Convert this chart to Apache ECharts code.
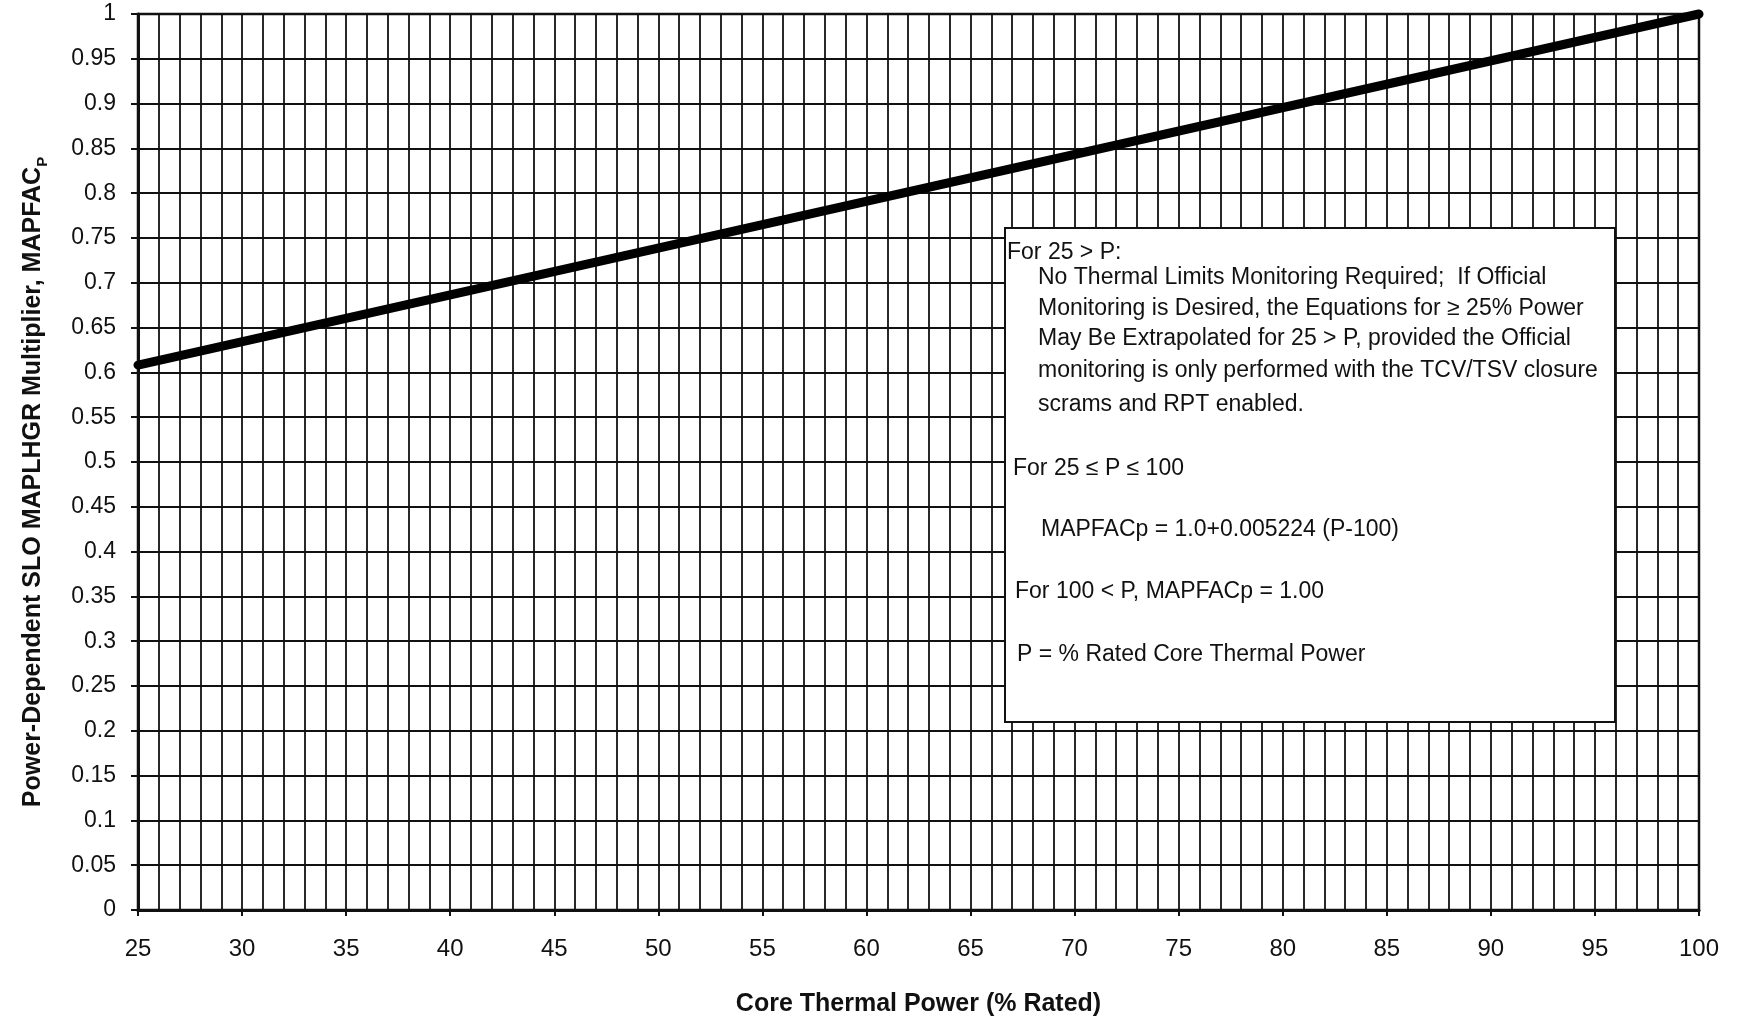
<!DOCTYPE html>
<html>
<head>
<meta charset="utf-8">
<title>MAPFACp vs Core Thermal Power</title>
<script src="https://cdn.jsdelivr.net/npm/echarts@6/dist/echarts.min.js"></script>
<style>
  html, body { margin: 0; padding: 0; background: #fff; }
  #chart { width: 1746px; height: 1022px; }
</style>
</head>
<body>
<div id="chart"></div>
<script>
// Core thermal power (% rated) and the SLO MAPLHGR multiplier at the ends of the line
const powerPct = [25, 100];
const mapfacP = [0.6082, 1.0];

// Axis ranges and tick steps
const xRange = [25, 100];
const xMajorStep = 5;
const xMinorDivisions = 5;
const yRange = [0, 1];
const yStep = 0.05;

// Notes box text
const noteLines = [
  'For 25 > P:',
  'No Thermal Limits Monitoring Required;  If Official',
  'Monitoring is Desired, the Equations for \u2265 25% Power',
  'May Be Extrapolated for 25 > P, provided the Official',
  'monitoring is only performed with the TCV/TSV closure',
  'scrams and RPT enabled.',
  'For 25 \u2264 P \u2264 100',
  'MAPFACp = 1.0+0.005224 (P-100)',
  'For 100 < P, MAPFACp = 1.00',
  'P = % Rated Core Thermal Power'
];
// left offset and vertical centre of each note line inside the box
const noteLayout = [
  [2, 25], [33, 50], [33, 81], [33, 111], [33, 143], [33, 177],
  [8, 241], [36, 302], [10, 364], [12, 427]
];

const FONT = '"Liberation Sans", Arial, Helvetica, sans-serif';
const INK = '#111';

const chart = echarts.init(document.getElementById('chart'));

const gridLine = { color: INK, width: 1.8 };

const box = { x: 1005, y: 228, w: 610, h: 494 };

const noteTexts = noteLines.map((t, i) => ({
  type: 'text',
  x: box.x + noteLayout[i][0],
  y: box.y + noteLayout[i][1],
  z: 101,
  style: {
    text: t,
    fill: INK,
    font: '23px ' + FONT,
    textAlign: 'left',
    textVerticalAlign: 'middle'
  }
}));

chart.setOption({
  backgroundColor: '#fff',
  animation: false,
  grid: {
    left: 138, right: 47, top: 14, bottom: 111,
    show: true,
    borderColor: INK,
    borderWidth: 2.5,
    containLabel: false
  },
  xAxis: {
    type: 'value',
    min: xRange[0],
    max: xRange[1],
    interval: xMajorStep,
    name: 'Core Thermal Power (% Rated)',
    nameLocation: 'middle',
    nameGap: 82,
    nameTextStyle: { fontFamily: FONT, fontWeight: 'bold', fontSize: 25, color: INK },
    axisLine: { show: true, lineStyle: { color: INK, width: 3 } },
    axisTick: { show: true, length: 6, lineStyle: { color: INK, width: 2 } },
    axisLabel: { margin: 27, fontFamily: FONT, fontSize: 24, color: INK },
    splitLine: { show: true, lineStyle: gridLine },
    minorTick: { show: false, splitNumber: xMinorDivisions },
    minorSplitLine: { show: true, lineStyle: gridLine }
  },
  yAxis: {
    type: 'value',
    min: yRange[0],
    max: yRange[1],
    interval: yStep,
    name: 'Power-Dependent SLO MAPLHGR Multiplier, MAPFAC{sub|P}',
    nameLocation: 'middle',
    nameRotate: 90,
    nameGap: 92,
    nameTextStyle: {
      fontFamily: FONT, fontWeight: 'bold', fontSize: 25, color: INK,
      padding: [0, 40, 0, 0],
      rich: {
        sub: { fontFamily: FONT, fontWeight: 'bold', fontSize: 15, color: INK, verticalAlign: 'bottom', padding: [0, 0, -4, 0] }
      }
    },
    axisLine: { show: true, lineStyle: { color: INK, width: 3 } },
    axisTick: { show: true, length: 7, lineStyle: { color: INK, width: 2 } },
    axisLabel: {
      margin: 22, fontFamily: FONT, fontSize: 23, color: INK,
      formatter: v => String(+v.toFixed(2))
    },
    splitLine: { show: true, lineStyle: gridLine }
  },
  series: [{
    type: 'line',
    data: powerPct.map((p, i) => [p, mapfacP[i]]),
    showSymbol: false,
    symbol: 'none',
    clip: false,
    lineStyle: { color: '#000', width: 9, cap: 'round' },
    z: 5
  }],
  graphic: [
    {
      type: 'rect',
      z: 100,
      shape: { x: box.x, y: box.y, width: box.w, height: box.h },
      style: { fill: '#fff', stroke: INK, lineWidth: 2 }
    }
  ].concat(noteTexts)
});
</script>
</body>
</html>
